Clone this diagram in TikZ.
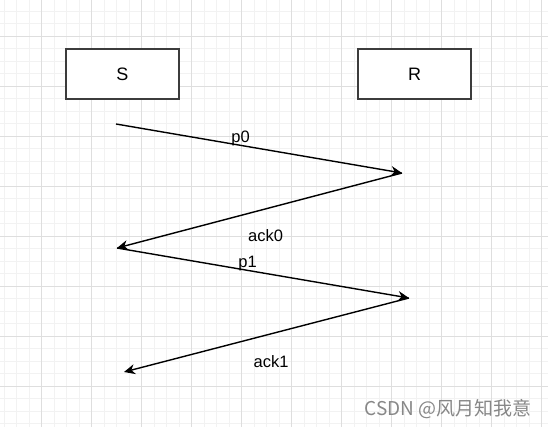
\documentclass[tikz,border=0pt]{standalone}
\usepackage{fontspec}
\setmainfont{Liberation Sans}
\newfontfamily\cjk{Noto Sans CJK SC}
\usetikzlibrary{arrows.meta}
\definecolor{gridminor}{RGB}{242,242,242}
\definecolor{gridmajor}{RGB}{222,222,222}
\definecolor{boxline}{RGB}{60,60,60}
\definecolor{markgray}{RGB}{135,135,135}
\tikzset{
  hostbox/.style={draw=boxline,line width=1.6pt,minimum width=113pt,minimum height=50pt,
    font=\fontsize{18}{21}\selectfont},
  msg/.style={line width=1.4pt,-{Stealth[length=11pt,width=10pt,inset=3.5pt]}},
  msglabel/.style={inner sep=0pt,font=\fontsize{16.5}{19}\selectfont}
}
\begin{document}
\begin{tikzpicture}[x=1pt,y=-1pt]
  \useasboundingbox (0,0) rectangle (548,427);
  \fill[white] (0,0) rectangle (548,427);
  % grid
  \foreach \x in {4.2,16.7,...,548} \draw[gridminor,line width=0.8pt] (\x,0) -- (\x,427);
  \foreach \y in {11,23.5,...,427} \draw[gridminor,line width=0.8pt] (0,\y) -- (548,\y);
  \foreach \x in {41.7,91.7,...,548} \draw[gridmajor,line width=0.8pt] (\x,0) -- (\x,427);
  \foreach \y in {36,86,...,427} \draw[gridmajor,line width=0.8pt] (0,\y) -- (548,\y);

  \node[hostbox,fill=white] (S) at (122.5,74) {S};
  \node[hostbox,fill=white] (R) at (414.5,74) {R};

  \coordinate (s0) at (116,124);
  \coordinate (r0) at (402,173);
  \coordinate (s1) at (117,248);
  \coordinate (r1) at (409,298);
  \coordinate (s2) at (124,372);

  \draw[msg] (s0) -- (r0);
  \draw[msg] (r0) -- (s1);
  \draw[msg] (s1) -- (r1);
  \draw[msg] (r1) -- (s2);

  \node[msglabel] (p0)   at (240.5,138) {p0};
  \node[msglabel] (ack0) at (265.5,236) {ack0};
  \node[msglabel] (p1)   at (247.5,263.5) {p1};
  \node[msglabel] (ack1) at (271,361.3) {ack1};

  \node[inner sep=0pt,text=markgray,font=\cjk\fontsize{19}{22}\selectfont] (mark) at (448,409) {CSDN @风月知我意};
\end{tikzpicture}
\end{document}
